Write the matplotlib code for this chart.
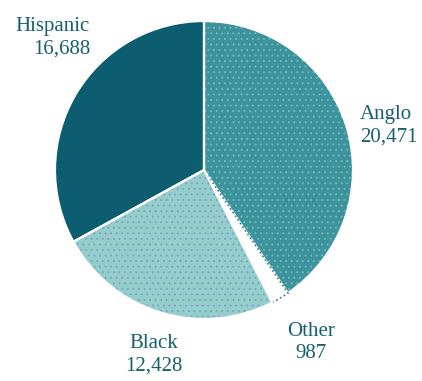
import matplotlib
matplotlib.use("Agg")
import matplotlib.pyplot as plt

# Population by group
groups = ["Anglo", "Other", "Black", "Hispanic"]
counts = [20471, 987, 12428, 16688]

W, H = 422, 381
fig = plt.figure(figsize=(W / 100, H / 100), dpi=100)
ax = fig.add_axes([0, 0, 1, 1])

face = ["#3f929b", "#ffffff", "#95cdcb", "#0b5d6f"]
dots = ["#5ec1c0", "#ffffff", "#78a5d0", "#0b5d6f"]
hatch = ["...", None, "...", None]
text_color = "#16606f"

cx, cy, r = 204, H - 170, 149
plt.rcParams["hatch.linewidth"] = 0.7

# base fill
wedges, _ = ax.pie(counts, colors=face, startangle=90, counterclock=False,
                   center=(cx, cy), radius=r,
                   wedgeprops=dict(linewidth=0))
# dotted screen texture on top
tex, _ = ax.pie(counts, colors=["none"] * len(counts), startangle=90,
                counterclock=False, center=(cx, cy), radius=r,
                wedgeprops=dict(linewidth=0))
for w, h, c in zip(tex, hatch, dots):
    if h:
        w.set_edgecolor(c)
        w.set_linewidth(0)
        w.set_hatch(h)
# white slice separators
edges, _ = ax.pie(counts, colors=["none"] * len(counts), startangle=90,
                  counterclock=False, center=(cx, cy), radius=r,
                  wedgeprops=dict(edgecolor="white", linewidth=1.6))
# the small "Other" slice gets a dotted outline
edges[1].set_edgecolor("#2f7f8c")
edges[1].set_linestyle(":")
edges[1].set_linewidth(1.2)

ax.set_xlim(0, W)
ax.set_ylim(0, H)
ax.set_aspect("equal")
ax.axis("off")

font = dict(family="Liberation Serif", fontsize=15, color=text_color)
label_pos = {
    "Hispanic": (90, 17, "right"),
    "Anglo": (360, 105, "left"),
    "Black": (154, 334, "center"),
    "Other": (311, 322, "center"),
}
for g, c in zip(groups, counts):
    x, y, ha = label_pos[g]
    ax.text(x, H - y, f"{g}\n{c:,}", ha=ha, va="top", linespacing=1.25, **font)

fig.savefig("out.png", dpi=100)
